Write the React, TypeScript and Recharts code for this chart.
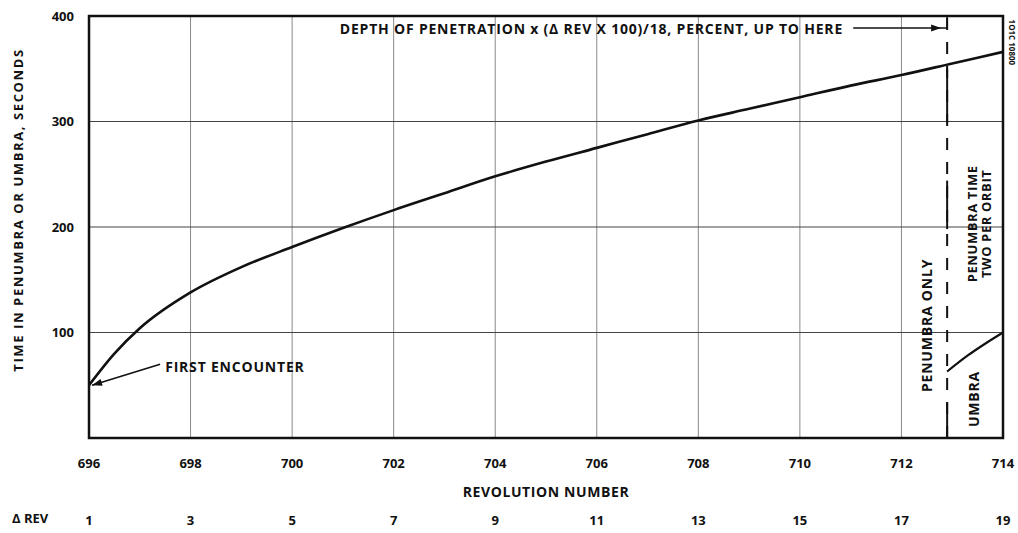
import {
  ComposedChart,
  Line,
  XAxis,
  YAxis,
  CartesianGrid,
  ReferenceLine,
  ReferenceArea,
  ReferenceDot,
} from 'recharts';

const FONT = '"Open Sans", "DejaVu Sans", sans-serif';
const INK = '#111';

// main curve: time in penumbra or umbra vs revolution number
const revolutions = [696, 696.5, 697, 698, 699, 700, 701, 702, 703, 704, 705, 706, 707, 708, 709, 710, 711, 712, 713, 714];
const timeSeconds = [50, 80, 104, 138, 162, 181, 199, 216, 232, 248, 262, 275, 288, 301, 312, 323, 334, 344, 355, 366];

// umbra segment after the penetration limit
const umbraRevs = [712.9, 713.3, 713.7, 714];
const umbraTimes = [63, 78, 91, 100];

const revTicks = [696, 698, 700, 702, 704, 706, 708, 710, 712, 714];
const deltaRev = [1, 3, 5, 7, 9, 11, 13, 15, 17, 19];
const timeTicks = [100, 200, 300, 400];

const penetrationRev = 712.9;

const mainData = revolutions.map((rev, i) => ({ rev, time: timeSeconds[i] }));
const umbraData = umbraRevs.map((rev, i) => ({ rev, umbra: umbraTimes[i] }));

type Note = {
  text: string;
  rev: number;
  time: number;
  rotate?: number;
  anchor?: 'start' | 'middle' | 'end';
  size?: number;
  spacing?: number;
};

const notes: Note[] = [
  { text: 'DEPTH OF PENETRATION x (\u0394 REV X 100)/18, PERCENT, UP TO HERE', rev: 710.85, time: 388.6, anchor: 'end', spacing: 0.8 },
  { text: 'FIRST ENCOUNTER', rev: 697.5, time: 67.6, anchor: 'start', spacing: 0.8 },
  { text: 'PENUMBRA ONLY', rev: 712.5, time: 106.7, rotate: -90, spacing: 0.8 },
  { text: 'PENUMBRA TIME', rev: 713.39, time: 203, rotate: -90, size: 13, spacing: 0.6 },
  { text: 'TWO PER ORBIT', rev: 713.66, time: 203, rotate: -90, size: 13, spacing: 0.6 },
  { text: 'UMBRA', rev: 713.41, time: 37, rotate: -90, spacing: 0.8 },
  { text: '1O1C 10800', rev: 714.18, time: 375, rotate: 90, size: 8, spacing: 0 },
];

const textStyle = { fontFamily: FONT, fontWeight: 700, fill: INK };

const noteDot = (n: Note, i: number) => (
  <ReferenceDot
    key={i}
    x={n.rev}
    y={n.time}
    r={0}
    fill="none"
    stroke="none"
    ifOverflow="visible"
    label={(p: any) => {
      const cx = p.viewBox.x + (p.viewBox.width || 0) / 2;
      const cy = p.viewBox.y + (p.viewBox.height || 0) / 2;
      return (
        <text
          x={cx}
          y={cy}
          textAnchor={n.anchor || 'middle'}
          dominantBaseline="central"
          fontSize={n.size || 14}
          letterSpacing={n.spacing ?? 0}
          transform={n.rotate ? `rotate(${n.rotate}, ${cx}, ${cy})` : undefined}
          style={textStyle}
        >
          {n.text}
        </text>
      );
    }}
  />
);

const ArrowLine = (props: any) => {
  const { x1, y1, x2, y2, inset = 0 } = props;
  const ang = Math.atan2(y2 - y1, x2 - x1);
  const tx = x2 - Math.cos(ang) * inset;
  const ty = y2 - Math.sin(ang) * inset;
  const len = 10;
  const w = 3.5;
  const bx = tx - Math.cos(ang) * len;
  const by = ty - Math.sin(ang) * len;
  const pts = [
    `${tx},${ty}`,
    `${bx - Math.sin(ang) * w},${by + Math.cos(ang) * w}`,
    `${bx + Math.sin(ang) * w},${by - Math.cos(ang) * w}`,
  ].join(' ');
  return (
    <g>
      <line x1={x1} y1={y1} x2={x2} y2={y2} stroke={INK} strokeWidth={1.6} />
      <polygon points={pts} fill={INK} />
    </g>
  );
};

const RevTick = (props: any) => {
  const { x, y, payload } = props;
  const idx = revTicks.indexOf(payload.value);
  return (
    <g>
      <text x={x} y={y + 28} textAnchor="middle" fontSize={13} style={textStyle}>
        {payload.value}
      </text>
      <text x={x} y={y + 85} textAnchor="middle" fontSize={13} style={textStyle}>
        {deltaRev[idx]}
      </text>
    </g>
  );
};

export default function App() {
  return (
    <div style={{ position: 'absolute', left: 0, top: 0, background: '#fff' }}>
      <ComposedChart
        width={1018}
        height={533}
        data={mainData}
        margin={{ top: 16, right: 15, bottom: 65, left: 0 }}
      >
        <CartesianGrid horizontal={false} stroke="#8a8a8a" strokeWidth={1} />
        <CartesianGrid vertical={false} stroke="#444" strokeWidth={1.2} />
        <XAxis
          dataKey="rev"
          type="number"
          domain={[696, 714]}
          ticks={revTicks}
          height={30}
          tickLine={false}
          axisLine={false}
          tickSize={0}
          tick={<RevTick />}
          interval={0}
          label={(p: any) => {
            const vb = p.viewBox;
            return (
              <g>
                <text x={vb.x + vb.width / 2} y={vb.y + 59} textAnchor="middle" fontSize={14} letterSpacing={0.6} style={textStyle}>
                  REVOLUTION NUMBER
                </text>
                <text x={12} y={vb.y + 85} textAnchor="start" fontSize={13} style={textStyle}>
                  {'\u0394 REV'}
                </text>
              </g>
            );
          }}
        />
        <YAxis
          type="number"
          domain={[0, 400]}
          ticks={timeTicks}
          width={89}
          tickLine={false}
          axisLine={false}
          tickMargin={9}
          tick={{ ...textStyle, fontSize: 13 }}
          label={(p: any) => {
            const vb = p.viewBox;
            const cx = 18;
            const cy = vb.y + vb.height / 2 - 17;
            return (
              <text
                x={cx}
                y={cy}
                textAnchor="middle"
                dominantBaseline="central"
                fontSize={13}
                letterSpacing={1.6}
                transform={`rotate(-90, ${cx}, ${cy})`}
                style={textStyle}
              >
                TIME IN PENUMBRA OR UMBRA, SECONDS
              </text>
            );
          }}
        />

        <ReferenceArea x1={696} x2={714} y1={0} y2={400} fill="none" stroke={INK} strokeWidth={2.5} ifOverflow="visible" />

        {/* penetration limit */}
        <ReferenceLine x={penetrationRev} stroke={INK} strokeWidth={2} strokeDasharray="12 12" />
        <ReferenceLine segment={[{ x: penetrationRev, y: 0 }, { x: penetrationRev, y: 34 }]} stroke={INK} strokeWidth={2} />
        <ReferenceLine segment={[{ x: penetrationRev, y: 198 }, { x: penetrationRev, y: 244 }]} stroke={INK} strokeWidth={2} />
        <ReferenceLine segment={[{ x: penetrationRev, y: 299 }, { x: penetrationRev, y: 350 }]} stroke={INK} strokeWidth={2} />

        {/* arrows */}
        <ReferenceLine
          segment={[{ x: 711.05, y: 388.6 }, { x: penetrationRev, y: 388.6 }]}
          ifOverflow="visible"
          shape={(p: any) => <ArrowLine {...p} inset={6} />}
        />
        <ReferenceLine segment={[{ x: penetrationRev, y: 388.6 }, { x: penetrationRev, y: 400 }]} stroke={INK} strokeWidth={1.6} />
        <ReferenceLine
          segment={[{ x: 697.4, y: 70 }, { x: 696.06, y: 50 }]}
          ifOverflow="visible"
          shape={(p: any) => <ArrowLine {...p} />}
        />

        <Line
          dataKey="time"
          type="monotone"
          stroke={INK}
          strokeWidth={2.6}
          dot={false}
          isAnimationActive={false}
        />
        <Line
          data={umbraData}
          dataKey="umbra"
          type="monotone"
          stroke={INK}
          strokeWidth={2.2}
          dot={false}
          isAnimationActive={false}
        />

        {notes.map((n, i) => noteDot(n, i))}
      </ComposedChart>
    </div>
  );
}
